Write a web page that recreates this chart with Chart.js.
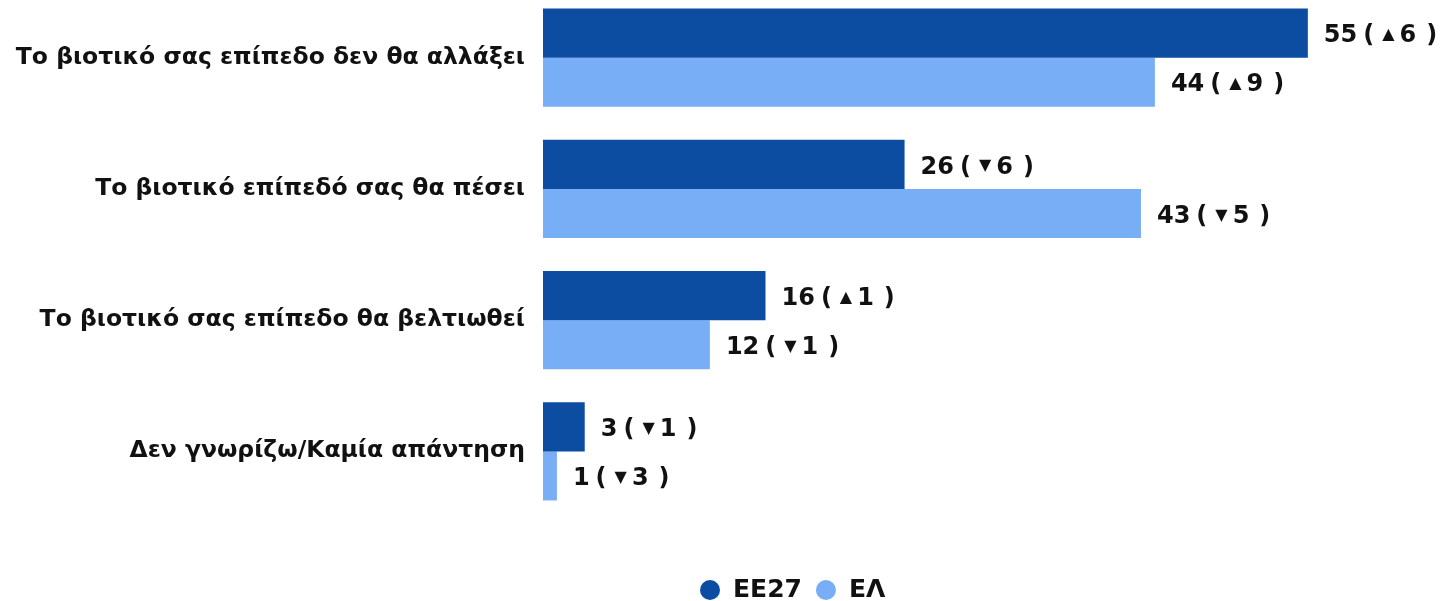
<!DOCTYPE html>
<html>
<head>
<meta charset="utf-8">
<script src="https://cdn.jsdelivr.net/npm/chart.js@4.4.1/dist/chart.umd.min.js"></script>
<style>
  html, body { margin: 0; padding: 0; background: #fff; }
  .wrap { position: relative; width: 1443px; height: 601px; overflow: hidden; }
  .wrap canvas { position: absolute; left: 0; top: -8px; }
</style>
</head>
<body>
<div class="wrap"><canvas id="myChart" width="1443" height="609"></canvas></div>
<script>
// data
const categories = [
  "Το βιοτικό σας επίπεδο δεν θα αλλάξει",
  "Το βιοτικό επίπεδό σας θα πέσει",
  "Το βιοτικό σας επίπεδο θα βελτιωθεί",
  "Δεν γνωρίζω/Καμία απάντηση",
];
const seriesNames = ["ΕΕ27", "ΕΛ"];
const ee27Values = [55, 26, 16, 3];
const elValues = [44, 43, 12, 1];
// change vs previous wave, sign gives arrow direction
const ee27Change = [6, -6, 1, -1];
const elChange = [9, -5, -1, -3];

const DARK = "#0c4da2";
const LIGHT = "#77aef5";
const FONT = "'DejaVu Sans', sans-serif";

//value labels after each bar
const barLabels = {
  id: "barLabels",
  afterDatasetsDraw(chart) {
    const ctx = chart.ctx;
    ctx.save();
    ctx.fillStyle = "#111";
    ctx.textBaseline = "middle";
    const big = "bold 24px " + FONT;
    const piece = (txt, font, x, y) => {
      ctx.font = font;
      ctx.fillText(txt, x, y);
      return ctx.measureText(txt).width;
    };
    chart.data.datasets.forEach((ds, di) => {
      const meta = chart.getDatasetMeta(di);
      meta.data.forEach((bar, i) => {
        const ch = ds.change[i];
        const y = bar.y + 3;
        let x = bar.x + 16;
        x += piece(String(ds.data[i]), big, x, y) + 6;
        x += piece("(", big, x, y) + 8;
        x += piece(ch > 0 ? "▲" : "▼", "16px " + FONT, x, y - 1) + 5;
        x += piece(String(Math.abs(ch)), big, x, y) + 10;
        piece(")", big, x, y);
      });
    });
    ctx.restore();
  },
};

//legend drawn by hand so it can sit below with a gap
const bottomLegend = {
  id: "bottomLegend",
  afterDraw(chart) {
    const ctx = chart.ctx;
    ctx.save();
    ctx.font = "bold 25px " + FONT;
    ctx.textBaseline = "middle";
    const y = 598;
    let x = 700;
    chart.data.datasets.forEach((ds) => {
      ctx.fillStyle = ds.backgroundColor;
      ctx.beginPath();
      ctx.arc(x + 10, y, 10, 0, Math.PI * 2);
      ctx.fill();
      x += 33;
      ctx.fillStyle = "#111";
      ctx.fillText(ds.label, x, y);
      x += ctx.measureText(ds.label).width + 14;
    });
    ctx.restore();
  },
};

const myChart = new Chart(document.getElementById("myChart"), {
  type: "bar",
  data: {
    labels: categories,
    datasets: [
      {
        label: seriesNames[0],
        data: ee27Values,
        change: ee27Change,
        backgroundColor: DARK,
        categoryPercentage: 0.748,
        barPercentage: 1,
      },
      {
        label: seriesNames[1],
        data: elValues,
        change: elChange,
        backgroundColor: LIGHT,
        categoryPercentage: 0.748,
        barPercentage: 1,
      },
    ],
  },
  plugins: [barLabels, bottomLegend],
  options: {
    indexAxis: "y",
    responsive: false,
    animation: false,
    layout: { padding: { top: 0, right: 10, bottom: 84, left: 0 } },
    plugins: {
      legend: { display: false },
      tooltip: { enabled: false },
    },
    scales: {
      x: {
        display: false,
        min: 0,
        max: 64,
      },
      y: {
        grid: { display: false, drawTicks: false },
        border: { display: false },
        ticks: {
          color: "#111",
          font: { family: FONT, size: 23.5, weight: "bold" },
          padding: 18,
        },
        afterFit(scale) {
          scale.width = 543;
          scale.paddingTop = 0;
          scale.paddingBottom = 0;
        },
      },
    },
  },
});
</script>
</body>
</html>
